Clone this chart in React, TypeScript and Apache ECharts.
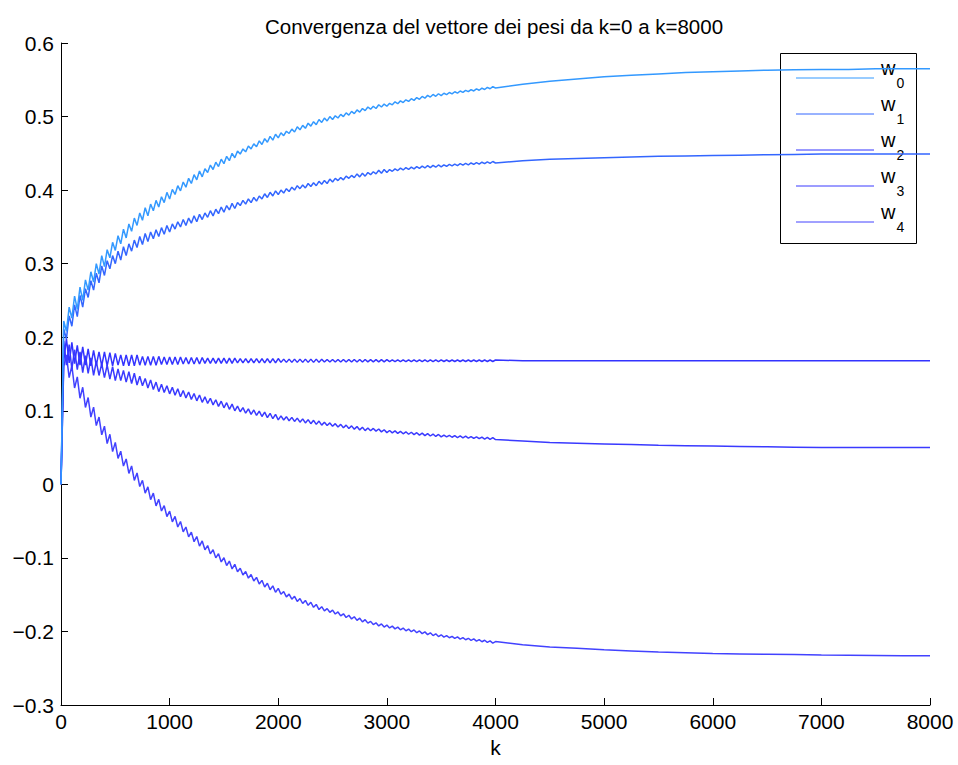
import React, { useEffect, useRef } from "react";
import * as echarts from "echarts";

// ---- data ----
const TITLE = "Convergenza del vettore dei pesi da k=0 a k=8000";
const X_NAME = "k";
const SERIES_NAMES = ["w0", "w1", "w2", "w3", "w4"];
const SUBSCRIPTS = ["0", "1", "2", "3", "4"];
const COLORS = ["#3399ff", "#3366ff", "#3333ff", "#3a3aff", "#4242ff"];

// k step between successive peak / trough samples of the oscillating part (k = 0..4000)
const ZIG_STEP = 25;

// k = 0..3000
const W0_ZIG = [0,
  0.222, 0.208, 0.241, 0.226, 0.256, 0.238, 0.268, 0.250,
  0.278, 0.264, 0.289, 0.275, 0.300, 0.286, 0.311, 0.296,
  0.319, 0.308, 0.329, 0.318, 0.338, 0.327, 0.347, 0.335,
  0.354, 0.344, 0.362, 0.352, 0.369, 0.359, 0.376, 0.365,
  0.381, 0.372, 0.386, 0.377, 0.391, 0.383, 0.397, 0.388,
  0.401, 0.394, 0.406, 0.399, 0.411, 0.404, 0.416, 0.409,
  0.421, 0.414, 0.426, 0.418,
  0.429, 0.424, 0.434, 0.428, 0.438, 0.432, 0.442, 0.436,
  0.446, 0.440, 0.450, 0.444,
  0.453, 0.449, 0.456, 0.452, 0.460, 0.456, 0.463, 0.459,
  0.467, 0.462, 0.470, 0.465, 0.473, 0.468, 0.476, 0.471,
  0.478, 0.474, 0.480, 0.477, 0.483, 0.479, 0.486, 0.482,
  0.488, 0.484, 0.491, 0.487, 0.493, 0.489, 0.496, 0.492,
  0.498, 0.494, 0.500, 0.496,
  0.501, 0.498, 0.503, 0.500, 0.505, 0.502, 0.507, 0.504,
  0.509, 0.506, 0.511, 0.508, 0.513, 0.510, 0.514, 0.511,
  0.516, 0.513, 0.517, 0.514];
// k = 3025..4000
const W0_ZIG_LATE = [
  0.518, 0.516, 0.520, 0.5175, 0.5213, 0.519, 0.5228, 0.5205,
  0.5243, 0.522, 0.5258, 0.5235, 0.5273, 0.525, 0.5288, 0.5265,
  0.530, 0.5275, 0.531, 0.5285,
  0.5317, 0.5298, 0.5327, 0.5308, 0.5337, 0.5318, 0.5347, 0.5328,
  0.5357, 0.5338, 0.5367, 0.5348, 0.5377, 0.5358, 0.5387, 0.5368,
  0.5397, 0.5378, 0.5407, 0.5388];

const W1_ZIG = [0,
  0.211, 0.198, 0.229, 0.215, 0.244, 0.228, 0.257, 0.241,
  0.266, 0.254, 0.277, 0.264, 0.287, 0.274, 0.297, 0.284,
  0.304, 0.293, 0.311, 0.300, 0.317, 0.305, 0.323, 0.311,
  0.327, 0.317, 0.332, 0.322, 0.337, 0.326, 0.341, 0.330,
  0.343, 0.334, 0.346, 0.337, 0.349, 0.340, 0.352, 0.343,
  0.354, 0.347, 0.357, 0.350, 0.360, 0.352, 0.362, 0.355,
  0.365, 0.357, 0.367, 0.360,
  0.369, 0.363, 0.372, 0.365, 0.374, 0.368, 0.377, 0.370,
  0.379, 0.373, 0.382, 0.375,
  0.383, 0.379, 0.386, 0.381, 0.388, 0.383, 0.390, 0.385,
  0.392, 0.388, 0.395, 0.390, 0.397, 0.392, 0.399, 0.394,
  0.400, 0.396, 0.402, 0.398, 0.404, 0.400, 0.406, 0.402,
  0.407, 0.403, 0.409, 0.405, 0.410, 0.406, 0.412, 0.408,
  0.413, 0.409, 0.415, 0.411,
  0.416, 0.413, 0.417, 0.414, 0.419, 0.416, 0.420, 0.417,
  0.422, 0.418, 0.423, 0.419, 0.424, 0.421, 0.425, 0.422,
  0.427, 0.423, 0.428, 0.424];
const W1_ZIG_LATE = [
  0.4279, 0.4256, 0.4289, 0.4266, 0.4298, 0.4274, 0.4305, 0.4281,
  0.4313, 0.4289, 0.432, 0.4296, 0.4327, 0.4301, 0.4332, 0.4306,
  0.4337, 0.4311, 0.4342, 0.4316,
  0.4344, 0.4324, 0.4349, 0.4329, 0.4354, 0.4334, 0.4359, 0.4339,
  0.4364, 0.4344, 0.4369, 0.4349, 0.4374, 0.4354, 0.4379, 0.4359,
  0.4384, 0.4364, 0.4389, 0.4369];

const W2_ZIG = [0,
  0.167, 0.198, 0.165, 0.193, 0.164, 0.189, 0.162, 0.187,
  0.162, 0.184, 0.161, 0.182, 0.162, 0.180, 0.161, 0.180,
  0.161, 0.179, 0.161, 0.178, 0.162, 0.176, 0.161, 0.176,
  0.161, 0.176, 0.161, 0.176, 0.162, 0.174, 0.162, 0.174,
  0.162, 0.174, 0.162, 0.174, 0.163, 0.173, 0.163, 0.173,
  0.163, 0.173, 0.163, 0.173, 0.1635, 0.1725, 0.1635, 0.1725,
  0.1635, 0.1725, 0.1635, 0.1725,
  0.1645, 0.1715, 0.1645, 0.1715, 0.1645, 0.1715, 0.1645, 0.1715,
  0.1645, 0.1715, 0.1645, 0.1715,
  0.165, 0.171, 0.165, 0.171, 0.165, 0.171, 0.165, 0.171,
  0.165, 0.171, 0.165, 0.171, 0.165, 0.171, 0.165, 0.171,
  0.1658, 0.1702, 0.1658, 0.1702, 0.1658, 0.1702, 0.1658, 0.1702,
  0.1658, 0.1702, 0.1658, 0.1702, 0.1658, 0.1702, 0.1658, 0.1702,
  0.1662, 0.1698, 0.1662, 0.1698,
  0.1662, 0.1698, 0.1662, 0.1698, 0.1662, 0.1698, 0.1662, 0.1698,
  0.1662, 0.1698, 0.1662, 0.1698, 0.1665, 0.1695, 0.1665, 0.1695,
  0.1665, 0.1695, 0.1665, 0.1695];
const W2_ZIG_LATE = [
  0.1667, 0.1693, 0.1667, 0.1693, 0.1667, 0.1693, 0.1667, 0.1693,
  0.1667, 0.1693, 0.1667, 0.1693, 0.1667, 0.1693, 0.1667, 0.1693,
  0.1667, 0.1693, 0.1667, 0.1693,
  0.167, 0.169, 0.167, 0.169, 0.167, 0.169, 0.167, 0.169,
  0.167, 0.169, 0.167, 0.169, 0.167, 0.169, 0.167, 0.169,
  0.167, 0.169, 0.167, 0.169];

const W3_ZIG = [0,
  0.195, 0.162, 0.190, 0.157, 0.183, 0.156, 0.180, 0.152,
  0.175, 0.151, 0.172, 0.148, 0.167, 0.148, 0.164, 0.145,
  0.162, 0.143, 0.160, 0.141, 0.157, 0.141, 0.155, 0.139,
  0.153, 0.137, 0.151, 0.135, 0.147, 0.134, 0.144, 0.131,
  0.142, 0.129, 0.139, 0.126, 0.136, 0.125, 0.134, 0.123,
  0.132, 0.121, 0.130, 0.119, 0.1275, 0.1175, 0.1255, 0.1155,
  0.1235, 0.1135, 0.1215, 0.1115,
  0.119, 0.110, 0.117, 0.108, 0.115, 0.106, 0.113, 0.104,
  0.111, 0.102, 0.109, 0.100,
  0.1063, 0.0987, 0.1043, 0.0967, 0.1026, 0.0952, 0.1011, 0.0937,
  0.0996, 0.0922, 0.0981, 0.0907, 0.0966, 0.0892, 0.0951, 0.0877,
  0.093, 0.0875, 0.092, 0.0865, 0.091, 0.0855, 0.090, 0.0845,
  0.089, 0.0835, 0.088, 0.0825, 0.087, 0.0815, 0.086, 0.0805,
  0.0845, 0.080, 0.0835, 0.079,
  0.0825, 0.078, 0.0815, 0.077, 0.0805, 0.076, 0.0795, 0.075,
  0.0785, 0.074, 0.0775, 0.073, 0.0765, 0.0728, 0.0760, 0.0723,
  0.0752, 0.0713, 0.0742, 0.0703];
const W3_ZIG_LATE = [
  0.0732, 0.0699, 0.0726, 0.0693, 0.072, 0.0687, 0.0714, 0.0681,
  0.0708, 0.0675, 0.0702, 0.0669, 0.0696, 0.0663, 0.069, 0.0657,
  0.0684, 0.0651, 0.0678, 0.0645,
  0.067, 0.0644, 0.0666, 0.064, 0.0662, 0.0636, 0.0658, 0.0632,
  0.0654, 0.0628, 0.065, 0.0624, 0.0646, 0.062, 0.0642, 0.0616,
  0.0638, 0.0612, 0.0634, 0.0608];

const W4_ZIG = [0,
  0.160, 0.176, 0.145, 0.161, 0.131, 0.146, 0.117, 0.132,
  0.1045, 0.118, 0.0915, 0.105, 0.0798, 0.0915, 0.0673, 0.079,
  0.0555, 0.068, 0.0445, 0.057, 0.0353, 0.045, 0.0248, 0.0345,
  0.0148, 0.025, 0.0053, 0.0155, -0.003, 0.0055, -0.012, -0.0035,
  -0.0208, -0.012, -0.0293, -0.0205, -0.0363, -0.029, -0.0438, -0.0365,
  -0.051, -0.0435, -0.058, -0.0505, -0.0645, -0.058, -0.0715, -0.065,
  -0.078, -0.071, -0.084, -0.077,
  -0.089, -0.0833, -0.0945, -0.0888, -0.100, -0.0943, -0.1055, -0.0998,
  -0.1105, -0.1043, -0.115, -0.1088,
  -0.1188, -0.114, -0.1233, -0.1185, -0.1275, -0.1225, -0.1315, -0.1265,
  -0.1355, -0.1305, -0.1395, -0.1345, -0.1433, -0.138, -0.1468, -0.1415,
  -0.1495, -0.1458, -0.153, -0.1493, -0.1562, -0.1523, -0.1592, -0.1553,
  -0.162, -0.1578, -0.1645, -0.1603, -0.1672, -0.1633, -0.1702, -0.1663,
  -0.172, -0.169, -0.174, -0.171,
  -0.1763, -0.1735, -0.1788, -0.176, -0.181, -0.178, -0.183, -0.180,
  -0.185, -0.182, -0.187, -0.184, -0.1887, -0.1863, -0.1907, -0.1883,
  -0.1925, -0.1898, -0.194, -0.1913];
const W4_ZIG_LATE = [
  -0.1952, -0.1928, -0.1965, -0.1941, -0.1978, -0.1954, -0.1991, -0.1967,
  -0.2004, -0.198, -0.2017, -0.1993, -0.203, -0.2006, -0.2043, -0.2019,
  -0.2056, -0.2032, -0.2069, -0.2045,
  -0.2077, -0.2057, -0.2086, -0.2066, -0.2095, -0.2075, -0.2104, -0.2084,
  -0.2113, -0.2093, -0.2122, -0.2102, -0.2131, -0.2111, -0.214, -0.212,
  -0.2149, -0.2129, -0.2158, -0.2138];

// smooth part, k = 4250..8000
const TAIL_K = [4250, 4500, 4750, 5000, 5250, 5500, 5750, 6000,
  6250, 6500, 6750, 7000, 7250, 7500, 7750, 8000];
const W0_TAIL = [0.544, 0.548, 0.551, 0.554, 0.556, 0.558, 0.560, 0.561,
  0.562, 0.563, 0.5635, 0.564, 0.564, 0.565, 0.565, 0.565];
const W1_TAIL = [0.440, 0.442, 0.443, 0.444, 0.445, 0.446, 0.4465, 0.447,
  0.4475, 0.448, 0.4485, 0.449, 0.449, 0.449, 0.449, 0.449];
const W2_TAIL = [0.168, 0.168, 0.168, 0.168, 0.168, 0.168, 0.168, 0.168,
  0.168, 0.168, 0.168, 0.168, 0.168, 0.168, 0.168, 0.168];
const W3_TAIL = [0.059, 0.057, 0.056, 0.055, 0.054, 0.053, 0.0525, 0.052,
  0.0515, 0.051, 0.0505, 0.050, 0.050, 0.050, 0.050, 0.050];
const W4_TAIL = [-0.218, -0.221, -0.223, -0.225, -0.2265, -0.228, -0.229, -0.230,
  -0.2305, -0.231, -0.2315, -0.232, -0.2323, -0.2326, -0.233, -0.233];

const X_MIN = 0, X_MAX = 8000, X_INTERVAL = 1000;
const Y_MIN = -0.3, Y_MAX = 0.6, Y_INTERVAL = 0.1;

const ZIGS = [
  [...W0_ZIG, ...W0_ZIG_LATE],
  [...W1_ZIG, ...W1_ZIG_LATE],
  [...W2_ZIG, ...W2_ZIG_LATE],
  [...W3_ZIG, ...W3_ZIG_LATE],
  [...W4_ZIG, ...W4_ZIG_LATE],
];
const TAILS = [W0_TAIL, W1_TAIL, W2_TAIL, W3_TAIL, W4_TAIL];

function buildSeriesData(zig: number[], tail: number[]): number[][] {
  const pts: number[][] = zig.map((v, i) => [i * ZIG_STEP, v]);
  tail.forEach((v, i) => pts.push([TAIL_K[i], v]));
  return pts;
}

const FONT = "'Liberation Sans', Arial, Helvetica, sans-serif";

export default function App() {
  const ref = useRef<HTMLDivElement>(null);

  useEffect(() => {
    if (!ref.current) return;
    const chart = echarts.init(ref.current, null, { renderer: "svg" });

    // legend box (MATLAB style) drawn with graphic elements
    const LEG_X = 780.5, LEG_Y = 53.5, LEG_W = 136, LEG_H = 190;
    const ROW0 = 78, ROW_GAP = 36;
    const legendChildren: any[] = [
      {
        type: "rect",
        shape: { x: LEG_X, y: LEG_Y, width: LEG_W, height: LEG_H },
        style: { fill: "#ffffff", stroke: "#000000", lineWidth: 1 },
      },
    ];
    SERIES_NAMES.forEach((name, i) => {
      const y = ROW0 + i * ROW_GAP;
      legendChildren.push({
        type: "line",
        shape: { x1: 796, y1: y, x2: 874, y2: y },
        style: { stroke: COLORS[i], lineWidth: 1 },
      });
      legendChildren.push({
        type: "text",
        x: 881,
        y: y - 10,
        style: {
          text: "w",
          font: `20px ${FONT}`,
          fill: "#000",
          verticalAlign: "middle",
          align: "left",
        },
      });
      legendChildren.push({
        type: "text",
        x: 896.5,
        y: y + 5,
        style: {
          text: SUBSCRIPTS[i],
          font: `14px ${FONT}`,
          fill: "#000",
          verticalAlign: "middle",
          align: "left",
        },
      });
    });

    const option: any = {
      animation: false,
      backgroundColor: "#ffffff",
      title: {
        text: TITLE,
        left: 489,
        textAlign: "center",
        top: 11,
        textStyle: { fontFamily: FONT, fontSize: 20.5, fontWeight: "normal", color: "#000" },
      },
      grid: {
        left: 61,
        right: 28,
        top: 43,
        bottom: 60,
        containLabel: false,
        outerBoundsMode: "none",
      },
      xAxis: {
        type: "value",
        min: X_MIN,
        max: X_MAX,
        interval: X_INTERVAL,
        name: X_NAME,
        nameLocation: "middle",
        nameGap: 29,
        nameTextStyle: { fontFamily: FONT, fontSize: 21, color: "#000", verticalAlign: "top" },
        axisLine: { show: true, onZero: false, lineStyle: { color: "#000", width: 1 } },
        axisTick: { show: true, inside: true, length: 7, lineStyle: { color: "#000", width: 1 } },
        splitLine: { show: false },
        axisLabel: {
          fontFamily: FONT,
          fontSize: 21,
          color: "#000",
          margin: 6,
          formatter: (v: number) => String(v),
        },
      },
      yAxis: {
        type: "value",
        min: Y_MIN,
        max: Y_MAX,
        interval: Y_INTERVAL,
        axisLine: { show: true, onZero: false, lineStyle: { color: "#000", width: 1 } },
        axisTick: { show: true, inside: true, length: 7, lineStyle: { color: "#000", width: 1 } },
        splitLine: { show: false },
        axisLabel: {
          fontFamily: FONT,
          fontSize: 21,
          color: "#000",
          margin: 7,
          formatter: (v: number) => {
            if (Math.abs(v) < 1e-9) return "0";
            return v.toFixed(1).replace("-", "\u2212");
          },
        },
      },
      series: SERIES_NAMES.map((name, i) => ({
        name,
        type: "line",
        data: buildSeriesData(ZIGS[i], TAILS[i]),
        showSymbol: false,
        symbol: "none",
        silent: true,
        z: 2 + (4 - i),
        lineStyle: { color: COLORS[i], width: 1.5 },
        itemStyle: { color: COLORS[i] },
      })),
      graphic: [{ type: "group", z: 100, children: legendChildren }],
    };

    chart.setOption(option);
    return () => chart.dispose();
  }, []);

  return (
    <div
      ref={ref}
      style={{ position: "absolute", left: 0, top: 0, width: 958, height: 765 }}
    />
  );
}
